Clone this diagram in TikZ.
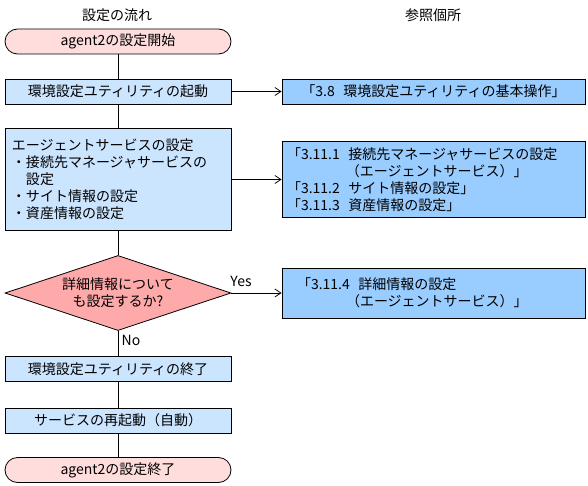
\documentclass[tikz,border=0pt]{standalone}
\usepackage{fontspec}
\setmainfont{Noto Sans CJK JP}
\usepackage{tikz}
\usetikzlibrary{arrows.meta, shapes.geometric}

\definecolor{termpink}{HTML}{FFDDDD}
\definecolor{askpink}{HTML}{FFAAAA}
\definecolor{steplight}{HTML}{CCE5FF}
\definecolor{refblue}{HTML}{99CCFF}

\newcommand{\numgap}{\hspace{0.6em}}

\begin{document}
\begin{tikzpicture}[x=1pt, y=-1pt, line width=0.8pt,
            >={Straight Barb[length=6pt,width=8pt]},
            every node/.style={font=\fontsize{14}{17}\selectfont},
            terminal/.style={draw, fill=termpink, rounded corners=12.5pt,
                minimum width=226pt, minimum height=25pt, inner sep=0pt},
            stepbox/.style={draw, fill=steplight, minimum width=226pt,
                minimum height=25pt, inner sep=0pt},
            refbox/.style={draw, fill=refblue, minimum width=303pt, inner sep=0pt},
            ask/.style={draw, fill=askpink, diamond, aspect=3, align=center,
                minimum width=226pt, minimum height=75pt, inner sep=0pt}]
            \useasboundingbox (0,0) rectangle (588,486);
            
            \node (flowtitle) at (117,15) {設定の流れ};
            \node (reftitle) at (433,15) {参照個所};
            
            % left column
            \node[terminal] (start) at (118,41.5) {agent2の設定開始};
            \node[stepbox] (util) at (118,91.5) {環境設定ユティリティの起動};
            \node[stepbox, minimum height=102pt, text width=212pt, align=left] (agent) at (118,179.5)
                {エージェントサービスの設定\\・接続先マネージャサービスの\\　設定\\・サイト情報の設定\\・資産情報の設定};
            \node[ask] (detail) at (118,293) {詳細情報について\\も設定するか?};
            \node[stepbox] (utilend) at (118,369) {環境設定ユティリティの終了};
            \node[stepbox] (restart) at (118,420.5) {サービスの再起動（自動）};
            \node[terminal] (finish) at (118,470) {agent2の設定終了};
            
            % right column
            \node[refbox, minimum height=25pt] (r38) at (433.5,91.5) {「3.8\numgap 環境設定ユティリティの基本操作」};
            \node[refbox, minimum height=76pt, text width=293pt, align=left] (r311) at (433.5,179.5)
                {「3.11.1\numgap 接続先マネージャサービスの設定\\\hspace*{4.2em}（エージェントサービス）」\\「3.11.2\numgap サイト情報の設定」\\「3.11.3\numgap 資産情報の設定」};
            \node[refbox, minimum height=50pt, text width=273pt, align=left] (r314) at (433.5,293)
                {「3.11.4\numgap 詳細情報の設定\\\hspace*{3.5em}（エージェントサービス）」};
            
            \node (yes) at (241,281) {Yes};
            \node (no) at (131,340) {No};
            
            \draw (start) -- (util);
            \draw (util) -- (agent);
            \draw (agent) -- (detail);
            \draw (detail) -- (utilend);
            \draw (utilend) -- (restart);
            \draw (restart) -- (finish);
            
            \draw[->] (util) -- (r38);
            \draw[->] (agent) -- (r311);
            \draw[->] (detail) -- (r314);
        \end{tikzpicture}
\end{document}
